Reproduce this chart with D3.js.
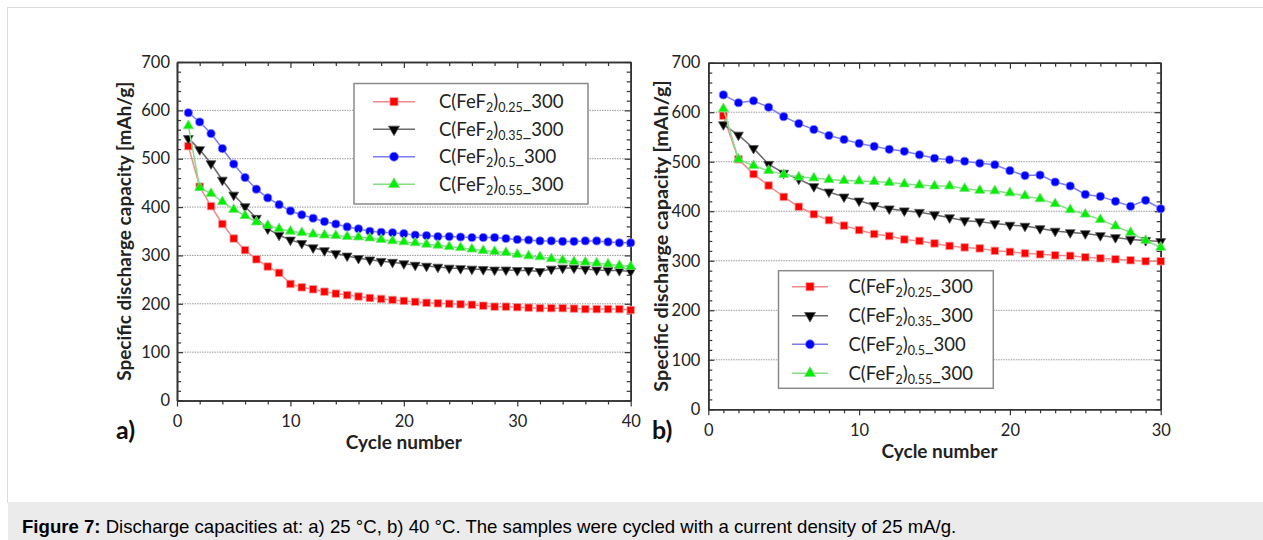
<!DOCTYPE html>
<html>
<head>
<meta charset="utf-8">
<script src="https://cdn.jsdelivr.net/npm/d3@7/dist/d3.min.js"></script>
<style>
  html, body { margin: 0; padding: 0; background: #fff; }
  svg { display: block; }
</style>
</head>
<body>
<svg id="chart" width="1263" height="540"></svg>
<script>
// ---------- DATA ----------
const cycles25 = [1,2,3,4,5,6,7,8,9,10,11,12,13,14,15,16,17,18,19,20,21,22,23,24,25,26,27,28,29,30,31,32,33,34,35,36,37,38,39,40];
const red25   = [526,442,402,365,335,311,292,277,264,241,234,230,225,221,218,215,212,210,208,206,204,202,201,200,199,198,196,194,194,193,192,191,191,191,190,189,189,189,189,187];
const black25 = [542,519,490,456,425,401,377,355,342,332,325,316,310,304,299,294,291,288,286,283,280,278,276,274,273,272,271,270,270,269,269,267,272,274,274,272,270,269,269,267];
const blue25  = [595,576,552,521,489,461,437,419,405,392,384,377,370,365,359,355,350,348,347,345,342,341,339,339,338,337,337,337,335,333,332,330,330,329,329,330,330,328,326,326];
const green25 = [568,440,428,411,395,382,369,362,355,350,347,344,342,341,339,338,336,333,330,328,326,323,321,318,316,313,310,308,306,302,299,297,293,290,287,286,284,282,279,277];

const cycles40 = [1,2,3,4,5,6,7,8,9,10,11,12,13,14,15,16,17,18,19,20,21,22,23,24,25,26,27,28,29,30];
const red40   = [593,505,475,452,429,409,394,382,371,362,354,350,343,340,335,330,327,325,320,318,315,313,311,310,307,305,303,301,299,299];
const black40 = [575,554,527,495,477,465,450,439,429,421,412,405,401,398,393,387,381,379,375,372,370,365,360,357,355,351,347,343,341,339];
const blue40  = [635,619,623,610,591,577,565,553,545,537,531,525,521,514,507,504,501,497,494,482,472,473,459,451,434,430,420,410,422,405];
const green40 = [607,505,492,482,474,469,467,464,462,461,460,458,455,453,451,451,446,442,441,437,431,425,415,403,394,383,370,357,341,327];

const seriesSubs  = ["0.25", "0.35", "0.5", "0.55"];
const yTicks      = [0,100,200,300,400,500,600,700];
const gridTicks   = [100,200,300,400,500,600];
const xTicks25    = [0,10,20,30,40];
const xTicks40    = [0,10,20,30];
const yLabelText  = "Specific discharge capacity [mAh/g]";
const xLabelText  = "Cycle number";
const captionBold = "Figure 7:";
const captionText = " Discharge capacities at: a) 25 °C, b) 40 °C. The samples were cycled with a current density of 25 mA/g.";

// ---------- STYLES ----------
const styles = [
  { fill: "#ff0000", stroke: "#f59a9a", line: "#f08a8a", sym: d3.symbolSquare,   size: 56, rot: 0 },
  { fill: "#000000", stroke: "#555555", line: "#6a6a6a", sym: d3.symbolTriangle, size: 42, rot: 180 },
  { fill: "#0000ff", stroke: "#7a7aff", line: "#7c7cee", sym: d3.symbolCircle,   size: 52, rot: 0 },
  { fill: "#00f000", stroke: "#7fe07f", line: "#88dd88", sym: d3.symbolTriangle, size: 44, rot: 0 }
];
const FONT = "Lato, 'Open Sans', sans-serif";
const svg = d3.select("#chart");

// frame & caption
svg.append("rect").attr("x", 7.5).attr("y", 7.5).attr("width", 1280).attr("height", 495)
  .attr("fill", "#fff").attr("stroke", "#dcdcdc").attr("stroke-width", 1);
svg.append("rect").attr("x", 8).attr("y", 502).attr("width", 1255).attr("height", 38).attr("fill", "#ebebeb");
const cap = svg.append("text").attr("x", 22).attr("y", 533)
  .attr("font-family", "'Liberation Sans', Arial, sans-serif").attr("font-size", 18.6).attr("fill", "#000");
cap.append("tspan").attr("font-weight", "bold").text(captionBold);
cap.append("tspan").text(captionText);

function drawPanel(cfg) {
  const x = d3.scaleLinear().domain(cfg.xDomain).range([cfg.left, cfg.right]);
  const y = d3.scaleLinear().domain([0, 700]).range([cfg.bottom, cfg.top]);
  const g = svg.append("g");

  // gridlines
  g.append("g").selectAll("line").data(gridTicks).join("line")
    .attr("x1", cfg.left).attr("x2", cfg.right)
    .attr("y1", d => y(d)).attr("y2", d => y(d))
    .attr("stroke", "#9a9a9a").attr("stroke-width", 1).attr("stroke-dasharray", "1.5,1");

  const axisStyle = sel => {
    sel.selectAll("path.domain").attr("stroke", "#333").attr("stroke-width", 1.6);
    sel.selectAll(".tick line").attr("stroke", "#333").attr("stroke-width", 1.2);
    sel.selectAll("text").attr("font-family", FONT).attr("font-size", 16.5).attr("fill", "#222");
  };

  // minor ticks
  const xMinor = d3.range(cfg.xDomain[0], cfg.xDomain[1] + 0.001, cfg.xMinorStep).filter(v => v % 10 !== 0);
  const yMinor = d3.range(0, 701, 20).filter(v => v % 100 !== 0);

  // bottom
  g.append("g").attr("transform", `translate(0,${cfg.bottom})`)
    .call(d3.axisBottom(x).tickValues(xMinor).tickSizeInner(4).tickSizeOuter(0).tickFormat(""))
    .call(axisStyle);
  g.append("g").attr("transform", `translate(0,${cfg.bottom})`)
    .call(d3.axisBottom(x).tickValues(cfg.xTicks).tickSizeInner(6).tickSizeOuter(0).tickPadding(cfg.xPad))
    .call(axisStyle);
  // top
  g.append("g").attr("transform", `translate(0,${cfg.top})`)
    .call(d3.axisTop(x).tickValues(xMinor).tickSizeInner(-4).tickSizeOuter(0).tickFormat(""))
    .call(axisStyle);
  g.append("g").attr("transform", `translate(0,${cfg.top})`)
    .call(d3.axisTop(x).tickValues(cfg.xTicks).tickSizeInner(-6).tickSizeOuter(0).tickFormat(""))
    .call(axisStyle);
  // left
  g.append("g").attr("transform", `translate(${cfg.left},0)`)
    .call(d3.axisLeft(y).tickValues(yMinor).tickSizeInner(-4).tickSizeOuter(0).tickFormat(""))
    .call(axisStyle);
  g.append("g").attr("transform", `translate(${cfg.left},0)`)
    .call(d3.axisLeft(y).tickValues(yTicks).tickSizeInner(-6).tickSizeOuter(0).tickPadding(cfg.yPad))
    .call(axisStyle);
  // right
  g.append("g").attr("transform", `translate(${cfg.right},0)`)
    .call(d3.axisRight(y).tickValues(yMinor).tickSizeInner(-4).tickSizeOuter(0).tickFormat(""))
    .call(axisStyle);
  g.append("g").attr("transform", `translate(${cfg.right},0)`)
    .call(d3.axisRight(y).tickValues(yTicks).tickSizeInner(-6).tickSizeOuter(0).tickFormat(""))
    .call(axisStyle);

  // series
  cfg.series.forEach((vals, i) => {
    const st = styles[i];
    const pts = cfg.cycles.map((c, k) => [c, vals[k]]);
    g.append("path").datum(pts)
      .attr("fill", "none").attr("stroke", st.line).attr("stroke-width", 1.5)
      .attr("d", d3.line().x(d => x(d[0])).y(d => y(d[1])));
    g.append("g").selectAll("path").data(pts).join("path")
      .attr("d", d3.symbol().type(st.sym).size(st.size))
      .attr("transform", d => `translate(${x(d[0])},${y(d[1])}) rotate(${st.rot})`)
      .attr("fill", st.fill).attr("stroke", st.stroke).attr("stroke-width", 0.8);
  });

  // legend
  const L = cfg.legend;
  g.append("rect").attr("x", L.x0).attr("y", L.y0).attr("width", L.x1 - L.x0).attr("height", L.y1 - L.y0)
    .attr("fill", "#fff").attr("stroke", "#8a8a8a").attr("stroke-width", 1.5);
  seriesSubs.forEach((sub, i) => {
    const st = styles[i];
    const cy = L.rows[i];
    g.append("line").attr("x1", L.lx0).attr("x2", L.lx1).attr("y1", cy).attr("y2", cy)
      .attr("stroke", st.line).attr("stroke-width", 1.5);
    g.append("path").attr("d", d3.symbol().type(st.sym).size(st.size + 10))
      .attr("transform", `translate(${(L.lx0 + L.lx1) / 2},${cy}) rotate(${st.rot})`)
      .attr("fill", st.fill).attr("stroke", st.stroke).attr("stroke-width", 0.8);
    const t = g.append("text").attr("x", L.tx).attr("y", cy + 6.5)
      .attr("font-family", FONT).attr("font-size", 18.5).attr("fill", "#222");
    t.append("tspan").text("C(FeF");
    t.append("tspan").attr("font-size", 12.5).attr("dy", 4).text("2");
    t.append("tspan").attr("dy", -4).text(")");
    t.append("tspan").attr("font-size", 12.5).attr("dy", 4).text(sub);
    t.append("tspan").attr("dy", -4).text("_300");
  });

  // axis titles
  g.append("text").attr("transform", `translate(${cfg.yLabX},${(cfg.top + cfg.bottom) / 2}) rotate(-90)`)
    .attr("text-anchor", "middle").attr("dominant-baseline", "central")
    .attr("font-family", FONT).attr("font-weight", "bold").attr("font-size", cfg.yLabSize).attr("fill", "#222")
    .text(yLabelText);
  g.append("text").attr("x", (cfg.left + cfg.right) / 2 + cfg.xLabDx).attr("y", cfg.xLabY)
    .attr("text-anchor", "middle").attr("dominant-baseline", "central")
    .attr("font-family", FONT).attr("font-weight", "bold").attr("font-size", 19).attr("fill", "#222")
    .text(xLabelText);
  g.append("text").attr("x", cfg.tagX).attr("y", cfg.tagY)
    .attr("font-family", FONT).attr("font-weight", "bold").attr("font-size", 25).attr("fill", "#111")
    .text(cfg.tag);
}

drawPanel({
  xDomain: [0, 40], left: 177, right: 630.7, top: 62, bottom: 400.5,
  xTicks: xTicks25, xMinorStep: 2, xPad: 8.5, yPad: 7,
  cycles: cycles25, series: [red25, black25, blue25, green25],
  legend: { x0: 354, y0: 83.5, x1: 588, y1: 204, lx0: 373, lx1: 415, tx: 439,
            rows: [101.7, 129.3, 156.7, 184.3] },
  yLabX: 123, yLabSize: 19, xLabY: 441, xLabDx: 0, tag: "a)", tagX: 116, tagY: 439
});

drawPanel({
  xDomain: [0, 30], left: 708.3, right: 1160.7, top: 62.7, bottom: 409.3,
  xTicks: xTicks40, xMinorStep: 1, xPad: 9, yPad: 8,
  cycles: cycles40, series: [red40, black40, blue40, green40],
  legend: { x0: 778.5, y0: 270.7, x1: 993.3, y1: 388.3, lx0: 792, lx1: 828, tx: 848.5,
            rows: [286.7, 315.7, 344.3, 373.3] },
  yLabX: 660, yLabSize: 19.8, xLabY: 450, xLabDx: 5, tag: "b)", tagX: 652, tagY: 439
});
</script>
</body>
</html>
